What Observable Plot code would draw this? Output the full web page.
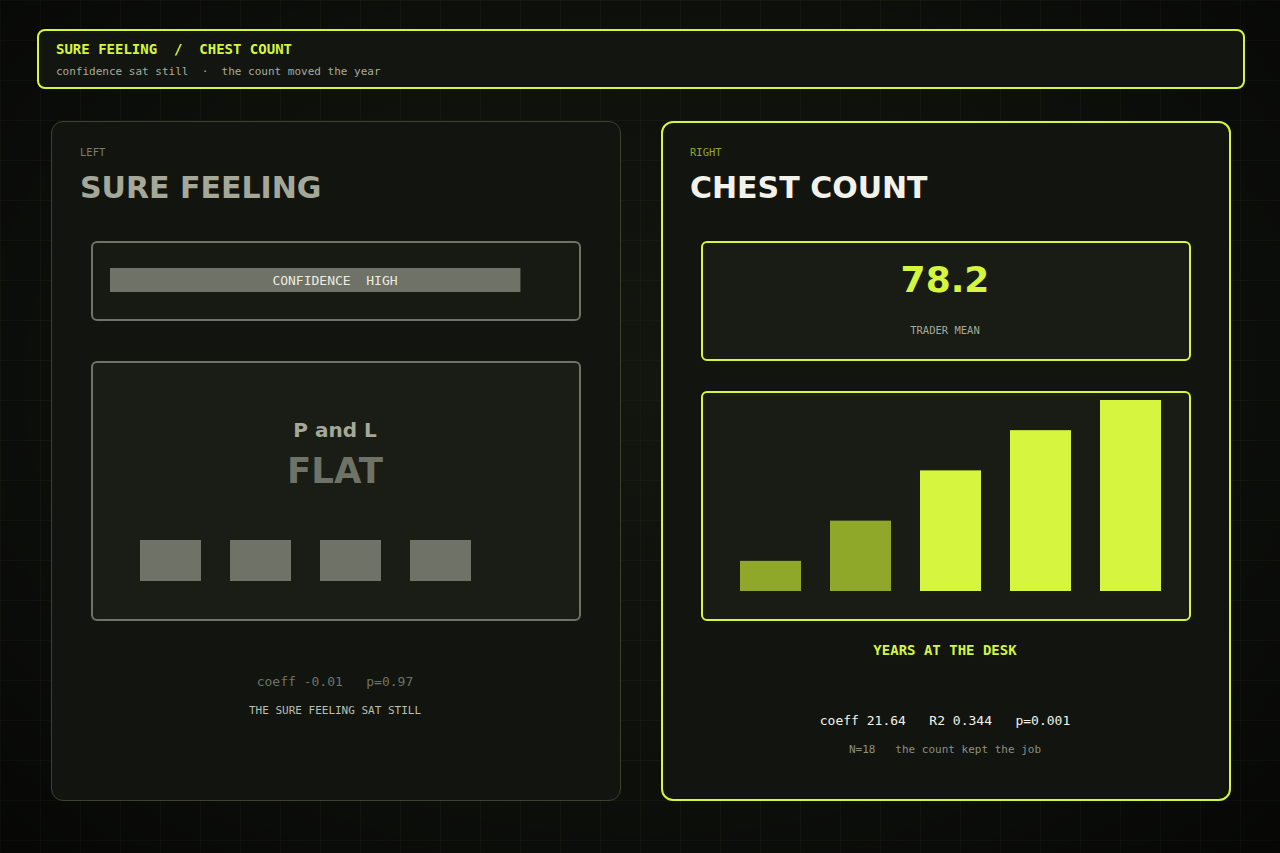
<!DOCTYPE html>
<html>
<head>
<meta charset="utf-8">
<script src="https://cdn.jsdelivr.net/npm/d3@7"></script>
<script src="https://cdn.jsdelivr.net/npm/@observablehq/plot@0.6"></script>
<style>
  html, body { margin: 0; padding: 0; }
  body {
    width: 1280px; height: 853px; overflow: hidden;
    background-color: #0d0f0b;
    font-family: "DejaVu Sans Mono", monospace;
  }
  #stage {
    position: relative; width: 1280px; height: 853px;
    background:
      radial-gradient(ellipse at 50% 45%, rgba(24,28,18,0.55) 0%, rgba(10,12,8,0) 60%, rgba(0,0,0,0.5) 100%),
      linear-gradient(to right, rgba(110,130,60,0.07) 1px, transparent 1px) 0 0 / 40px 40px,
      linear-gradient(to bottom, rgba(110,130,60,0.07) 1px, transparent 1px) 0 0 / 40px 40px,
      #0d0f0b;
  }
  .box { position: absolute; box-sizing: border-box; }
  .t { position: absolute; white-space: pre; line-height: 1; }
  .c { text-align: center; }
  .mono { font-family: "DejaVu Sans Mono", monospace; }
  .sans { font-family: "DejaVu Sans", sans-serif; font-weight: bold; }
  svg.plotsvg { position: absolute; background: transparent; }
</style>
</head>
<body>
<div id="stage">
  <!-- header -->
  <div class="box" style="left:37px;top:29px;width:1208px;height:60px;border:2px solid #d6f53f;border-radius:8px;background:#121510;"></div>
  <div class="t mono" style="left:56px;top:42px;font-size:14px;font-weight:bold;color:#d6f53f;">SURE FEELING  /  CHEST COUNT</div>
  <div class="t mono" style="left:56px;top:65.5px;font-size:11px;color:#a9ac9d;">confidence sat still  ·  the count moved the year</div>

  <!-- left panel -->
  <div class="box" style="left:51px;top:121px;width:570px;height:680px;border:1.5px solid #3d4230;border-radius:12px;background:#12150f;"></div>
  <div class="t mono" style="left:80px;top:147px;font-size:10.5px;color:#7a7d70;">LEFT</div>
  <div class="t sans" style="left:80px;top:173px;font-size:30px;color:#a5a898;">SURE FEELING</div>

  <div class="box" style="left:91px;top:241px;width:490px;height:80px;border:2px solid #6f7266;border-radius:6px;background:#171a13;"></div>
  <div id="conf"></div>
  <div class="t mono c" style="left:90px;width:490px;top:274px;font-size:13px;color:#ecece0;">CONFIDENCE  HIGH</div>

  <div class="box" style="left:91px;top:361px;width:490px;height:260px;border:2px solid #6f7266;border-radius:6px;background:#1a1d15;"></div>
  <div class="t sans c" style="left:90px;width:490px;top:420px;font-size:20px;color:#a5a898;">P and L</div>
  <div class="t sans c" style="left:90px;width:490px;top:453px;font-size:35.5px;color:#6f7266;">FLAT</div>
  <div id="pnl"></div>

  <div class="t mono c" style="left:50px;width:570px;top:674.5px;font-size:13px;color:#6f7266;">coeff -0.01   p=0.97</div>
  <div class="t mono c" style="left:50px;width:570px;top:704.5px;font-size:11px;color:#bcbfb1;">THE SURE FEELING SAT STILL</div>

  <!-- right panel -->
  <div class="box" style="left:661px;top:121px;width:570px;height:680px;border:2px solid #d6f53f;border-radius:12px;background:#12150f;"></div>
  <div class="t mono" style="left:690px;top:147px;font-size:10.5px;color:#8fa82a;">RIGHT</div>
  <div class="t sans" style="left:690px;top:173px;font-size:30px;color:#f2f2ea;">CHEST COUNT</div>

  <div class="box" style="left:701px;top:241px;width:490px;height:120px;border:2px solid #d6f53f;border-radius:6px;background:#191c14;"></div>
  <div class="t sans c" style="left:700px;width:490px;top:262px;font-size:36px;color:#d6f53f;">78.2</div>
  <div class="t mono c" style="left:700px;width:490px;top:324.5px;font-size:10.5px;color:#a5a898;">TRADER MEAN</div>

  <div class="box" style="left:701px;top:391px;width:490px;height:230px;border:2px solid #d6f53f;border-radius:6px;background:#191c14;"></div>
  <div id="bars"></div>

  <div class="t mono c" style="left:660px;width:570px;top:643px;font-size:14px;font-weight:bold;color:#d6f53f;">YEARS AT THE DESK</div>
  <div class="t mono c" style="left:660px;width:570px;top:713.5px;font-size:13px;color:#f2f2ea;">coeff 21.64   R2 0.344   p=0.001</div>
  <div class="t mono c" style="left:660px;width:570px;top:743.5px;font-size:11px;color:#8b8e81;">N=18   the count kept the job</div>
</div>

<script>
// ---- data ----
const confidenceLabel = ["confidence"];
const confidenceValue = [91];
const pnlQuarters = ["Q1", "Q2", "Q3", "Q4"];
const pnlValues = [4, 4, 4, 4];
const yearBins = ["0-2", "3-5", "6-10", "11-15", "16+"];
const chestCounts = [3, 7, 12, 16, 19];
const chestThreshold = 10;

const OLIVE = "#8fa82a", LIME = "#d6f53f", GREY = "#6f7266";

function place(svg, left, top) {
  svg.classList.add("plotsvg");
  svg.style.left = left + "px";
  svg.style.top = top + "px";
  svg.style.background = "transparent";
  svg.style.maxWidth = "none";
  return svg;
}

// confidence bar
const confData = confidenceLabel.map((k, i) => ({k, v: confidenceValue[i]}));
const conf = Plot.plot({
  width: 490, height: 80,
  margin: 0,
  style: {background: "transparent"},
  x: {domain: [0, 100], range: [19, 470], axis: null},
  y: {domain: confidenceLabel, range: [27, 51], padding: 0, axis: null},
  marks: [Plot.barX(confData, {x: "v", y: "k", fill: GREY})]
});
document.getElementById("conf").appendChild(place(conf, 91, 241));

// P and L flat squares
const pnlData = pnlQuarters.map((q, i) => ({q, v: pnlValues[i]}));
const pnl = Plot.plot({
  width: 490, height: 260,
  margin: 0,
  style: {background: "transparent"},
  x: {domain: pnlQuarters, range: [49, 380], paddingInner: 29 / 90, paddingOuter: 0, axis: null},
  y: {domain: [0, 4], range: [220, 179], axis: null},
  marks: [Plot.barY(pnlData, {x: "q", y: "v", fill: GREY})]
});
document.getElementById("pnl").appendChild(place(pnl, 91, 361));

// chest count bars
const barData = yearBins.map((b, i) => ({b, v: chestCounts[i]}));
const bars = Plot.plot({
  width: 490, height: 230,
  margin: 0,
  style: {background: "transparent"},
  x: {domain: yearBins, range: [39, 460], paddingInner: 29 / 90, paddingOuter: 0, axis: null},
  y: {domain: [0, 19], range: [200, 9], axis: null},
  marks: [Plot.barY(barData, {x: "b", y: "v", fill: d => d.v < chestThreshold ? OLIVE : LIME})]
});
document.getElementById("bars").appendChild(place(bars, 701, 391));
</script>
</body>
</html>
